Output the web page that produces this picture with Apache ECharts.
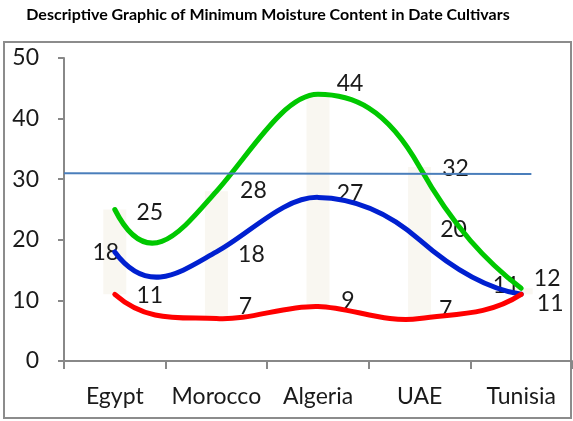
<!DOCTYPE html>
<html>
<head>
<meta charset="utf-8">
<script src="https://cdn.jsdelivr.net/npm/echarts@6/dist/echarts.min.js"></script>
<style>html,body{margin:0;padding:0;background:#fff}#c{width:573px;height:421px}</style>
</head>
<body>
<div id="c"></div>
<script>
var categories = ['Egypt', 'Morocco', 'Algeria', 'UAE', 'Tunisia'];
var greenValues = [25, 28, 44, 32, 12];
var blueValues = [18, 18, 27, 20, 11];
var redValues = [11, 7, 9, 7, 11];
var referenceLine = [[0, 31], [4.6, 30.85]];
var yTicks = [0, 10, 20, 30, 40, 50];

// label placement (style, not data)
var greenOffsets = [[35, 3], [37, -1], [32, -11], [36, 1], [26, -10]];
var blueOffsets = [[-9, 1], [35, 3], [32, -4], [34, -10], [-15, -9]];
var redOffsets = [[35, 1], [29, -12], [30, -6], [26, -9], [29, 9]];

var FONT = 'Lato';
// curve-shape parameters (rendering style)
var FWD = 1.03, BWD = 0.77, END_A = 4.3, END_B = -2.45;

// smoothed path through the points, positioned by the axes (api.coord)
function smoothRender(values, color) {
  return function (params, api) {
    if (params.dataIndex !== 0) return null;
    var pts = values.map(function (v, i) { return api.coord([i, v]); });
    var n = pts.length, m = [];
    for (var i = 1; i < n - 1; i++) {
      m[i] = FWD * (pts[i + 1][1] - pts[i][1]) + BWD * (pts[i][1] - pts[i - 1][1]);
    }
    m[0] = END_A * (pts[1][1] - pts[0][1]) + END_B * m[1];
    m[n - 1] = END_A * (pts[n - 1][1] - pts[n - 2][1]) + END_B * m[n - 2];
    var d = 'M' + pts[0][0] + ' ' + pts[0][1];
    for (var j = 0; j < n - 1; j++) {
      var dx = pts[j + 1][0] - pts[j][0];
      d += ' C' + (pts[j][0] + dx / 3) + ' ' + (pts[j][1] + m[j] / 3) + ' ' +
        (pts[j + 1][0] - dx / 3) + ' ' + (pts[j + 1][1] - m[j + 1] / 3) + ' ' +
        pts[j + 1][0] + ' ' + pts[j + 1][1];
    }
    return {
      type: 'path', shape: { pathData: d },
      style: { fill: 'none', stroke: color, lineWidth: 5, lineCap: 'round', lineJoin: 'round' }
    };
  };
}
function curveSeries(values, color) {
  return {
    type: 'custom', data: values.map(function (v, i) { return [i, v]; }),
    renderItem: smoothRender(values, color), z: 5, silent: true, clip: false
  };
}
function labelSeries(vals, offs) {
  return {
    type: 'line', z: 3, silent: true,
    data: vals.map(function (v, i) { return { value: v, label: { offset: offs[i] } }; }),
    showSymbol: true, symbol: 'circle', symbolSize: 1,
    itemStyle: { color: 'rgba(0,0,0,0)' },
    lineStyle: { width: 0, opacity: 0 },
    label: { show: true, position: 'inside', color: '#1a1a1a', fontFamily: FONT, fontSize: 23 },
    emphasis: { disabled: true }
  };
}
var barBase = redValues.slice();
var barRange = greenValues.map(function (v, i) { return v - redValues[i]; });

var chart = echarts.init(document.getElementById('c'), null, { renderer: 'canvas' });
chart.setOption({
  animation: false,
  title: {
    text: 'Descriptive Graphic of Minimum Moisture Content in Date Cultivars',
    left: 263, textAlign: 'center', top: 2,
    textStyle: { fontFamily: FONT, fontWeight: 'bold', fontSize: 16, color: '#000' }
  },
  graphic: [{
    type: 'rect', shape: { x: 4, y: 42, width: 567, height: 376 },
    style: { fill: 'none', stroke: '#8c8c8c', lineWidth: 2 }, z: -1
  }],
  grid: { left: 64, right: 1, top: 58, bottom: 60 },
  xAxis: [{
    type: 'category', data: categories, boundaryGap: true,
    axisLine: { lineStyle: { color: '#888', width: 2 } },
    axisTick: { show: true, length: 8, inside: false, lineStyle: { color: '#888', width: 2 } },
    axisLabel: { color: '#1a1a1a', fontFamily: FONT, fontSize: 23, margin: 24, interval: 0 },
    splitLine: { show: false }
  }, {
    type: 'value', min: 0, max: 5, show: false
  }],
  yAxis: {
    type: 'value', min: yTicks[0], max: yTicks[yTicks.length - 1], interval: 10,
    axisLine: { show: true, lineStyle: { color: '#888', width: 2 } },
    axisTick: { show: true, length: 6, lineStyle: { color: '#888', width: 2 } },
    axisLabel: { color: '#1a1a1a', fontFamily: FONT, fontSize: 23, margin: 25 },
    splitLine: { show: false }
  },
  series: [
    { type: 'bar', stack: 'r', data: barBase, barWidth: 23, itemStyle: { color: 'rgba(0,0,0,0)' }, silent: true, z: 1 },
    { type: 'bar', stack: 'r', data: barRange, barWidth: 23, itemStyle: { color: '#f9f7f1' }, silent: true, z: 1 },
    labelSeries(greenValues, greenOffsets),
    labelSeries(blueValues, blueOffsets),
    labelSeries(redValues, redOffsets),
    curveSeries(greenValues, '#00c800'),
    curveSeries(blueValues, '#0020d0'),
    curveSeries(redValues, '#ff0000'),
    {
      type: 'line', xAxisIndex: 1, data: referenceLine, showSymbol: false, symbol: 'none',
      lineStyle: { color: '#4a7ebb', width: 2 }, z: 6, silent: true
    }
  ]
});
</script>
</body>
</html>
